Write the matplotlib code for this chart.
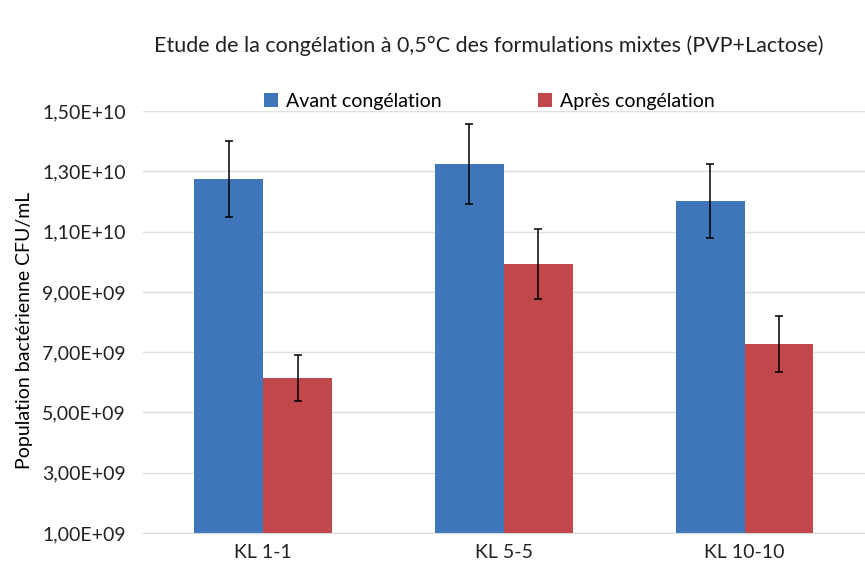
import numpy as np
import matplotlib.pyplot as plt

plt.rcParams['font.family'] = ['Lato', 'DejaVu Sans']

categories = ['KL 1-1', 'KL 5-5', 'KL 10-10']
avant = [1.274e10, 1.324e10, 1.202e10]
avant_err = [1.26e9, 1.32e9, 1.23e9]
apres = [6.14e9, 9.92e9, 7.27e9]
apres_err = [0.75e9, 1.17e9, 0.93e9]
yticks = [1e9, 3e9, 5e9, 7e9, 9e9, 1.1e10, 1.3e10, 1.5e10]
ytick_labels = ['1,00E+09', '3,00E+09', '5,00E+09', '7,00E+09',
                '9,00E+09', '1,10E+10', '1,30E+10', '1,50E+10']

fig = plt.figure(figsize=(8.65, 5.73), dpi=100)
ax = fig.add_axes([0.165, 0.07, 0.835, 0.736])

x = np.arange(len(categories))
w = 0.286
ekw = dict(ecolor='black', elinewidth=1.1, capsize=3, capthick=1.1)
ax.bar(x - w / 2, avant, w, yerr=avant_err, color='#3F76B9',
       label='Avant congélation', error_kw=ekw, zorder=2)
ax.bar(x + w / 2, apres, w, yerr=apres_err, color='#C0474A',
       label='Après congélation', error_kw=ekw, zorder=2)

ax.set_ylim(1e9, 1.5e10)
ax.set_xlim(-0.5, 2.5)
ax.set_yticks(yticks)
ax.set_yticklabels(ytick_labels)
ax.set_xticks(x)
ax.set_xticklabels(categories)
ax.tick_params(axis='both', length=0, labelsize=14, colors='#222222')
ax.tick_params(axis='y', pad=12)
ax.tick_params(axis='x', pad=8)
ax.grid(axis='y', color='#E0E0E0', linewidth=1, zorder=0)
for s in ['top', 'right', 'left']:
    ax.spines[s].set_visible(False)
ax.spines['bottom'].set_color('#D9D9D9')

ax.set_ylabel('Population bactérienne CFU/mL', fontsize=14)
ax.yaxis.set_label_coords(-0.152, 0.48)
fig.text(0.565, 0.92, 'Etude de la congélation à 0,5°C des formulations mixtes (PVP+Lactose)',
         ha='center', va='center', fontsize=15.5, color='#222222')
ax.legend(loc='lower center', bbox_to_anchor=(0.48, 0.975), ncol=2, frameon=False,
          fontsize=14, handlelength=0.7, handleheight=0.7, columnspacing=5.0,
          handletextpad=0.4, borderaxespad=0.2)

fig.savefig('out.png', dpi=100)
